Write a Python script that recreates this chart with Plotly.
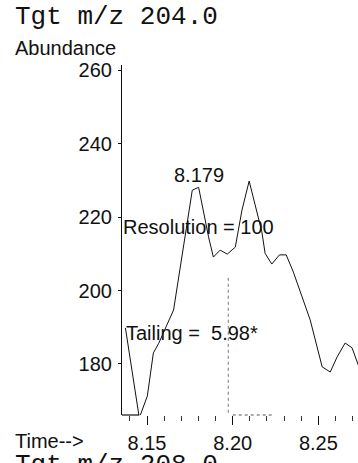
import plotly.graph_objects as go

# Extracted ion chromatogram, target ion m/z 204.0
times = [8.1374, 8.1455, 8.1502, 8.1537, 8.1568, 8.1655, 8.1764, 8.1801,
         8.1859, 8.1887, 8.1927, 8.1968, 8.2015, 8.2054, 8.2096, 8.2170,
         8.2189, 8.2228, 8.2273, 8.2312, 8.2354, 8.2452, 8.2522, 8.2569,
         8.2609, 8.2656, 8.2696, 8.2754]
abundance = [189.8, 165.3, 171.3, 183.0, 185.6, 194.7, 227.3, 228.1,
             214.6, 209.1, 211.0, 209.9, 211.8, 221.9, 229.8, 216.0,
             210.1, 207.2, 209.7, 209.7, 205.0, 192.0, 179.2, 177.8,
             181.9, 185.7, 184.4, 177.0]

x_ticks = [8.15, 8.20, 8.25]
x_tick_text = ["8.15", "8.20", "8.25"]
y_ticks = [180, 200, 220, 240, 260]

peak_rt = 8.179
peak_label = "8.179"
resolution_text = "Resolution = 100"
tailing_text = "Tailing =\u00a0 5.98*"
marker_rt = 8.1974

X_RANGE = [8.1354, 8.2731]
Y_RANGE = [166.1, 261.4]

W, H = 358, 463
L, R, T, B = 122, 0, 65, 48
PLOT_H = H - T - B
PLOT_W = W - L - R

SANS = "Liberation Sans, Arial, sans-serif"
MONO = "Liberation Mono, Courier New, monospace"


def px_x(px):
    return (px - L) / PLOT_W


def px_y(py):
    return (H - B - py) / PLOT_H


fig = go.Figure()
fig.add_trace(go.Scatter(
    x=times, y=abundance, mode="lines",
    line=dict(color="#111111", width=1),
    hoverinfo="skip", showlegend=False,
))

# baseline segment and integration marker
fig.add_shape(type="line", xref="x", yref="paper",
              x0=X_RANGE[0], x1=times[1], y0=0, y1=0,
              line=dict(color="#111111", width=1.2))
fig.add_shape(type="line", xref="x", yref="paper",
              x0=8.200, x1=8.224, y0=0, y1=0,
              line=dict(color="#555555", width=1, dash="dot"))
fig.add_shape(type="line", xref="x", yref="y",
              x0=marker_rt, x1=marker_rt, y0=166.7, y1=203.9,
              line=dict(color="#777777", width=1, dash="dot"))

ann = []


def text(s, x, y, font, size, xanchor="left"):
    ann.append(dict(text=s, x=x, y=y, xref="paper", yref="paper",
                    xanchor=xanchor, yanchor="middle", showarrow=False,
                    font=dict(family=font, size=size, color="#111111")))


text("Tgt m/z 204.0", px_x(13), px_y(17), MONO, 26)
text("Abundance", px_x(13), px_y(48), SANS, 20)
text("Time-->", px_x(13), px_y(441), SANS, 20)
text("Tgt m/z 208.0", px_x(13), px_y(465), MONO, 26)

ann.append(dict(text=peak_label, x=peak_rt + 0.0013, y=px_y(175), xref="x",
                yref="paper", xanchor="center", yanchor="middle",
                showarrow=False,
                font=dict(family=SANS, size=20, color="#111111")))
text(resolution_text, px_x(121), px_y(227), SANS, 20)
text(tailing_text, px_x(124), px_y(333), SANS, 20)

fig.update_layout(
    width=W, height=H,
    margin=dict(l=L, r=R, t=T, b=B, pad=0),
    paper_bgcolor="white", plot_bgcolor="white",
    annotations=ann,
    xaxis=dict(
        range=X_RANGE, showgrid=False, zeroline=False, showline=False,
        tickvals=x_ticks, ticktext=x_tick_text,
        ticks="outside", ticklen=9, tickwidth=1, tickcolor="#111111",
        ticklabelstandoff=1,
        tickfont=dict(family=SANS, size=20, color="#111111"),
        minor=dict(dtick=0.01, tick0=8.14, ticks="outside", ticklen=5,
                   tickwidth=1, tickcolor="#333333", showgrid=False),
    ),
    yaxis=dict(
        range=Y_RANGE, showgrid=False, zeroline=False,
        showline=True, linecolor="#111111", linewidth=1.2,
        tickvals=y_ticks, ticks="outside", ticklen=3, tickwidth=1,
        tickcolor="#111111", ticklabelstandoff=2,
        tickfont=dict(family=SANS, size=20, color="#111111"),
    ),
)

fig.write_html("out.html")
